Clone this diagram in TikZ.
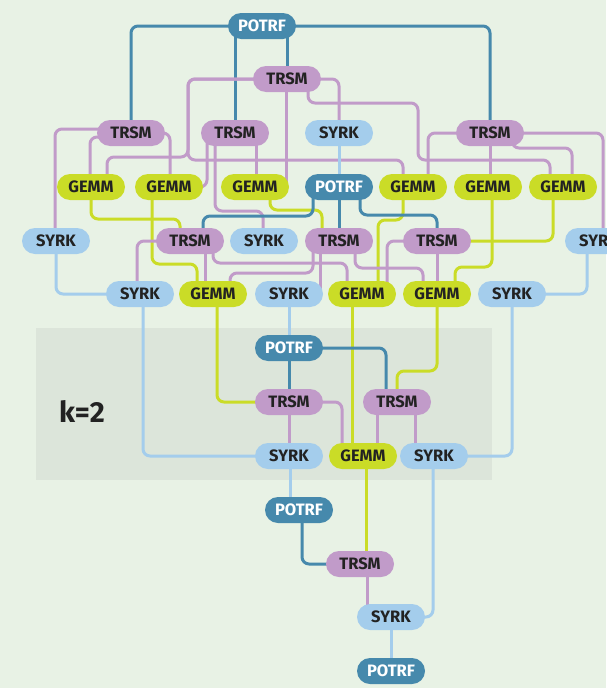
\documentclass[tikz,border=0pt]{standalone}
\usepackage{fontspec}
\setmainfont{Fira Sans}
\definecolor{bgc}{HTML}{E8F2E5}
\definecolor{boxc}{HTML}{DCE5DA}
\definecolor{potrfc}{HTML}{4689AC}
\definecolor{trsmc}{HTML}{C19BC9}
\definecolor{syrkc}{HTML}{A4CDEC}
\definecolor{gemmc}{HTML}{CADC27}
\definecolor{txtc}{HTML}{222222}
\pgfdeclarelayer{bg}
\pgfdeclarelayer{edges}
\pgfsetlayers{bg,edges,main}
\tikzset{
  task/.style={rectangle, rounded corners=13pt, minimum width=68pt, minimum height=26pt,
    inner sep=0pt, font=\bfseries\fontsize{16.5}{17}\selectfont, text=txtc},
  potrf/.style={task, fill=potrfc, text=white},
  trsm/.style={task, fill=trsmc},
  syrk/.style={task, fill=syrkc},
  gemm/.style={task, fill=gemmc},
  edge/.style={line width=3pt, rounded corners=7pt},
  pe/.style={edge, draw=potrfc},
  te/.style={edge, draw=trsmc},
  se/.style={edge, draw=syrkc},
  ge/.style={edge, draw=gemmc}
}
\begin{document}
\begin{tikzpicture}[x=1pt,y=-1pt]
\useasboundingbox (0,0) rectangle (606,688);
\begin{pgfonlayer}{bg}
\fill[bgc] (0,0) rectangle (606,688);
\fill[boxc] (36,328) rectangle (492,480);
\end{pgfonlayer}
\node[font=\bfseries\fontsize{29}{29}\selectfont, text=txtc] (klabel) at (82,411) {k=2};
% nodes
\node[potrf] (P0) at (262,26) {POTRF};
\node[trsm] (TA) at (287,79) {TRSM};
\node[trsm] (TB) at (131,133) {TRSM};
\node[trsm] (TC) at (235,133) {TRSM};
\node[syrk] (SD) at (339,133) {SYRK};
\node[trsm] (TE) at (490,133) {TRSM};
\node[gemm] (G1) at (91,187) {GEMM};
\node[gemm] (G2) at (169,187) {GEMM};
\node[gemm] (G3) at (255,187) {GEMM};
\node[potrf] (P1) at (339,187) {POTRF};
\node[gemm] (G5) at (413,187) {GEMM};
\node[gemm] (G6) at (488,187) {GEMM};
\node[gemm] (G7) at (563,187) {GEMM};
\node[syrk] (S1) at (56,241) {SYRK};
\node[trsm] (T1a) at (190,241) {TRSM};
\node[syrk] (S2) at (264,241) {SYRK};
\node[trsm] (T1b) at (339,241) {TRSM};
\node[trsm] (T1c) at (437,241) {TRSM};
\node[syrk] (S3) at (599,241) {SYRK};
\node[syrk] (S4) at (140,294) {SYRK};
\node[gemm] (G1a) at (213,294) {GEMM};
\node[syrk] (S5) at (289,294) {SYRK};
\node[gemm] (G1b) at (362,294) {GEMM};
\node[gemm] (G1c) at (437,294) {GEMM};
\node[syrk] (S6) at (512,294) {SYRK};
\node[potrf] (P2) at (289,348) {POTRF};
\node[trsm] (T2a) at (289,402) {TRSM};
\node[trsm] (T2b) at (397,402) {TRSM};
\node[syrk] (S7) at (289,456) {SYRK};
\node[gemm] (G2k) at (363,456) {GEMM};
\node[syrk] (S8) at (434,456) {SYRK};
\node[potrf] (P3) at (299,510) {POTRF};
\node[trsm] (T3) at (360,564) {TRSM};
\node[syrk] (S9) at (391,617) {SYRK};
\node[potrf] (P4) at (391,671) {POTRF};
\begin{pgfonlayer}{edges}
% POTRF 0
\draw[pe] (P0.center) -- (131,26) -- (TB.center);
\draw[pe] ([xshift=-27pt]P0.center) -- (TC.center);
\draw[pe] ([xshift=25pt]P0.center) -- (TA.center);
\draw[pe] (P0.center) -- (490,26) -- (TE.center);
% TRSM A
\draw[te] (TA.center) -- (188,79) -- (188,157) -- (107,157) -- ([xshift=16pt]G1.center);
\draw[te] (TA.center) -- (188,79) -- (188,160) -- (403,160) -- ([xshift=-10pt]G5.center);
\draw[te] (TA.center) -- (339,79) -- (SD.center);
\draw[te] ([xshift=-1pt]TA.center) -- ([xshift=31pt]G3.center);
\draw[te] ([xshift=21pt]TA.center) -- (308,103) -- (418,103) -- (418,160) -- (550,160) -- ([xshift=-13pt]G7.center);
% TRSM B
\draw[te] ([yshift=4pt]TB.center) -- (55,129) -- ([xshift=-1pt]S1.center);
\draw[te] ([yshift=-4pt]TB.center) -- (90,137) -- ([xshift=-1pt]G1.center);
\draw[te] (TB.center) -- (170,133) -- ([xshift=1pt]G2.center);
% TRSM C
\draw[te] ([xshift=-28pt]TC.center) -- (207,187) -- (G2.center);
\draw[te] ([xshift=-20pt]TC.center) -- (215,211) -- (263,211) -- ([xshift=-1pt]S2.center);
\draw[te] ([xshift=21pt]TC.center) -- ([xshift=1pt]G3.center);
% SYRK D
\draw[se] (SD.center) -- (P1.center);
% TRSM E
\draw[te] (TE.center) -- (428,133) -- ([xshift=15pt]G5.center);
\draw[te] (TE.center) -- ([xshift=2pt]G6.center);
\draw[te] (TE.center) -- (603,133) -- ([xshift=4pt]S3.center);
\draw[te] ([xshift=22pt]TE.center) -- (512,148) -- (572,148) -- ([xshift=9pt]G7.center);
% k=0 SYRK
\draw[se] (S1.center) -- (56,294) -- (S4.center);
\draw[se] ([xshift=-12pt]S3.center) -- (587,294) -- (S6.center);
% k=0 GEMM
\draw[ge] (G1.center) -- (91,219) -- (180,219) -- ([xshift=-10pt]T1a.center);
\draw[ge] ([xshift=-17pt]G2.center) -- (152,264) -- (197,264) -- ([xshift=-16pt]G1a.center);
\draw[ge] ([xshift=15pt]G3.center) -- (270,210) -- (322,210) -- ([xshift=-17pt]T1b.center);
\draw[ge] ([xshift=-10pt]G5.center) -- (403,220) -- (378,220) -- ([xshift=16pt]G1b.center);
\draw[ge] ([xshift=4pt]G6.center) -- (492,267) -- (455,267) -- ([xshift=18pt]G1c.center);
\draw[ge] ([xshift=-10pt]G7.center) -- (553,241) -- (T1c.center);
% POTRF 1
\draw[pe] ([xshift=-26pt]P1.center) -- (313,216) -- (203,216) -- ([xshift=13pt]T1a.center);
\draw[pe] (P1.center) -- (T1b.center);
\draw[pe] ([xshift=21pt]P1.center) -- (360,215) -- (437,215) -- (T1c.center);
% TRSM k=1
\draw[te] (T1a.center) -- (137,241) -- ([xshift=-3pt]S4.center);
\draw[te] ([xshift=15pt]T1a.center) -- ([xshift=-8pt]G1a.center);
\draw[te] ([xshift=23pt]T1a.center) -- (213,263) -- (347,263) -- ([xshift=-15pt]G1b.center);
\draw[te] ([xshift=-26pt]T1b.center) -- (313,273) -- (230,273) -- ([xshift=17pt]G1a.center);
\draw[te] ([xshift=-19pt]T1b.center) -- ([xshift=31pt]S5.center);
\draw[te] ([xshift=16pt]T1b.center) -- (355,268) -- (423,268) -- ([xshift=-14pt]G1c.center);
\draw[te] (T1c.center) -- (387,241) -- ([xshift=25pt]G1b.center);
\draw[te] (T1c.center) -- (G1c.center);
% k=1 SYRK / GEMM
\draw[se] ([xshift=3pt]S4.center) -- (143,456) -- (S7.center);
\draw[se] (S5.center) -- (P2.center);
\draw[se] (S6.center) -- (512,456) -- (S8.center);
\draw[ge] ([xshift=4pt]G1a.center) -- (217,402) -- (T2a.center);
\draw[ge] ([xshift=-10pt]G1b.center) -- ([xshift=-11pt]G2k.center);
\draw[ge] (G1c.center) -- (437,371) -- (397,371) -- (T2b.center);
% k=2
\draw[pe] (P2.center) -- (T2a.center);
\draw[pe] (P2.center) -- (386,348) -- ([xshift=-11pt]T2b.center);
\draw[te] (T2a.center) -- (S7.center);
\draw[te] (T2a.center) -- (342,402) -- ([xshift=-21pt]G2k.center);
\draw[te] ([xshift=-20pt]T2b.center) -- ([xshift=14pt]G2k.center);
\draw[te] ([xshift=18pt]T2b.center) -- ([xshift=-19pt]S8.center);
% k=3, 4
\draw[se] ([xshift=1pt]S7.center) -- ([xshift=-9pt]P3.center);
\draw[ge] ([xshift=3pt]G2k.center) -- ([xshift=6pt]T3.center);
\draw[se] ([xshift=-1pt]S8.center) -- (433,617) -- (S9.center);
\draw[pe] ([xshift=3pt]P3.center) -- (302,564) -- (T3.center);
\draw[te] ([xshift=7pt]T3.center) -- ([xshift=-24pt]S9.center);
\draw[se] (S9.center) -- (P4.center);
\end{pgfonlayer}
\end{tikzpicture}
\end{document}
